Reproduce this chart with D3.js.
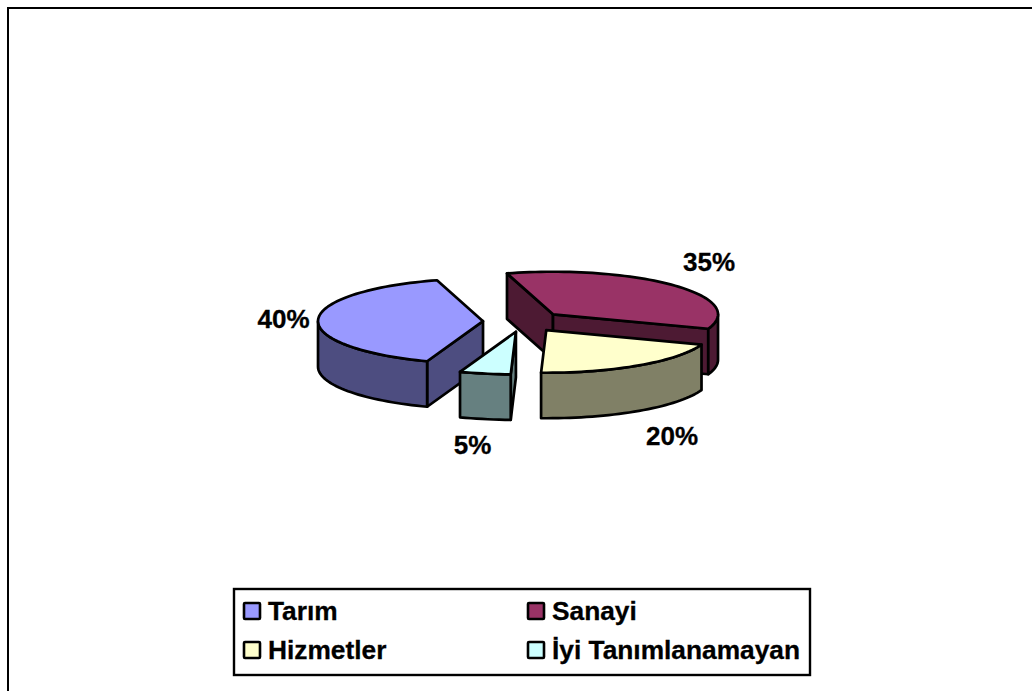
<!DOCTYPE html>
<html lang="tr">
<head>
<meta charset="utf-8">
<style>html,body{margin:0;padding:0;background:#fff;overflow:hidden}svg{display:block}text{font-family:"Liberation Sans",Arial,sans-serif;font-weight:bold;fill:#000;stroke:#000;stroke-width:.3px}</style>
<script src="https://cdn.jsdelivr.net/npm/d3@7/dist/d3.min.js"></script>
</head>
<body>
<svg id="chart" width="1032" height="691"></svg>
<script>
const categories = ["Tarım", "Sanayi", "Hizmetler", "İyi Tanımlanamayan"];
const values = [40, 35, 20, 5];
const topColors = ["#9999FF", "#993366", "#FFFFCC", "#CCFFFF"];
const sideColors = ["#4D4D80", "#4D1A33", "#808066", "#668080"];
const drawOrder = [1, 0, 3, 2];
const labelShift = [[-240, 6], [185.5, -51], [148.5, 123.5], [-51, 132.5]];
const legendCols = [244, 528];
const legendRows = [603, 642];

const rad = Math.PI / 180, cx = 523.5, cy = 321.5, explode = 40.5, depth = 45.5;
const sx = d3.scaleLinear().domain([-1, 1]).range([-165, 165]);
const sy = d3.scaleLinear().domain([-1, 1]).range([-42.6, 42.6]);
const arcs = d3.pie().sort(null).startAngle(199.8 * rad).endAngle(559.8 * rad)(values);
const svg = d3.select("#chart");
const line = d3.line();
const black = g => g.attr("stroke", "#000").attr("stroke-width", 2.7).attr("stroke-linejoin", "round");

svg.append("path").attr("d", "M8,691V8H1032").attr("fill", "none").attr("stroke", "#000").attr("stroke-width", 2);

function rim(a, o, z) { return [o[0] + sx(Math.sin(a)), o[1] - sy(Math.cos(a)) + z]; }
function samples(a0, a1) {
  const n = Math.max(2, Math.ceil((a1 - a0) / (2 * rad)));
  return d3.range(n + 1).map(i => a0 + (a1 - a0) * i / n);
}

drawOrder.forEach(i => {
  const d = arcs[i], mid = (d.startAngle + d.endAngle) / 2;
  const o = [cx + sx(Math.sin(mid)) * explode / 165, cy - sy(Math.cos(mid)) * explode / 165];
  const g = svg.append("g");
  [[d.startAngle, d.startAngle - Math.PI / 2], [d.endAngle, d.endAngle + Math.PI / 2]].forEach(([edge, normal]) => {
    if (Math.cos(normal) < 0) {
      g.append("path").call(black).attr("fill", sideColors[i])
        .attr("d", line([o, rim(edge, o, 0), rim(edge, o, depth), [o[0], o[1] + depth]]) + "Z");
    }
  });
  // front part of the outer wall: angles whose cosine is negative
  for (let k = 0; k < 2; k++) {
    const lo = Math.max(d.startAngle, (90 + 360 * k) * rad), hi = Math.min(d.endAngle, (270 + 360 * k) * rad);
    if (hi > lo) {
      const pts = samples(lo, hi);
      g.append("path").call(black).attr("fill", sideColors[i])
        .attr("d", line(pts.map(a => rim(a, o, 0)).concat(pts.slice().reverse().map(a => rim(a, o, depth)))) + "Z");
    }
  }
  g.append("path").call(black).attr("fill", topColors[i])
    .attr("d", line([o].concat(samples(d.startAngle, d.endAngle).map(a => rim(a, o, 0)))) + "Z");
});

svg.append("g").selectAll("text").data(arcs).join("text")
  .attr("x", (d, i) => cx + labelShift[i][0])
  .attr("y", (d, i) => cy + labelShift[i][1])
  .attr("text-anchor", "middle").attr("font-size", 26)
  .text(d => d.value + "%");

svg.append("rect").attr("x", 234).attr("y", 589).attr("width", 576).attr("height", 86)
  .attr("fill", "#fff").attr("stroke", "#000").attr("stroke-width", 2.4);
const legend = svg.append("g").selectAll("g").data(categories).join("g")
  .attr("transform", (d, i) => `translate(${legendCols[i % 2]},${legendRows[i >> 1]})`);
legend.append("rect").attr("width", 16).attr("height", 16).attr("fill", (d, i) => topColors[i])
  .attr("stroke", "#000").attr("stroke-width", 2.6).attr("rx", 1);
legend.append("text").attr("x", 24).attr("y", 17).attr("font-size", 26.3).text(d => d);
</script>
</body>
</html>
